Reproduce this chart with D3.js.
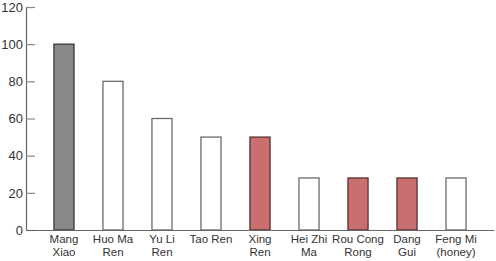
<!DOCTYPE html>
<html>
<head>
<meta charset="utf-8">
<script src="https://cdn.jsdelivr.net/npm/d3@7"></script>
<style>
  body { margin: 0; background: #fff; }
  text { font-family: "Liberation Sans", Arial, sans-serif; fill: #333; }
</style>
</head>
<body>
<div id="chart"></div>
<script>
const categories = [["Mang", "Xiao"], ["Huo Ma", "Ren"], ["Yu Li", "Ren"], ["Tao Ren"], ["Xing", "Ren"],
  ["Hei Zhi", "Ma"], ["Rou Cong", "Rong"], ["Dang", "Gui"], ["Feng Mi", "(honey)"]];
const values = [100, 80, 60, 50, 50, 28, 28, 28, 28];
const groups = ["gray", "white", "white", "white", "red", "white", "red", "red", "white"];
const yTicks = [0, 20, 40, 60, 80, 100, 120];

const width = 496, height = 261;
const margin = {top: 7, right: 2, bottom: 31, left: 26};
const w = width - margin.left - margin.right;
const h = height - margin.top - margin.bottom;

const fills = {gray: "#888888", white: "#ffffff", red: "#c96f6f"};
const strokes = {gray: "#3a3a3a", white: "#6a6a6a", red: "#5a3030"};

const svg = d3.select("#chart").append("svg")
    .attr("width", width)
    .attr("height", height)
    .append("g")
    .attr("transform", `translate(${margin.left},${margin.top})`);

const keys = categories.map(d => d.join(" "));

let x = d3.scaleBand()
    .range([0, w])
    .domain(keys)
    .paddingInner(0.59)
    .paddingOuter(0.57);

let y = d3.scaleLinear()
    .domain([0, 120])
    .range([h, 0]);

// Bars
svg.selectAll("rect.bar")
    .data(values)
    .enter()
    .append("rect")
      .attr("class", "bar")
      .attr("x", (d, i) => x(keys[i]))
      .attr("y", d => y(d))
      .attr("width", x.bandwidth())
      .attr("height", d => h - y(d))
      .style("fill", (d, i) => fills[groups[i]])
      .style("stroke", (d, i) => strokes[groups[i]])
      .style("stroke-width", 1.3);

// Y axis, ticks pointing inward
const yAxis = svg.append("g")
    .call(d3.axisRight(y).tickValues(yTicks).tickSize(9).tickSizeOuter(0));
yAxis.select(".domain").attr("stroke", "#666").attr("stroke-width", 1.2);
yAxis.selectAll(".tick line").attr("stroke", "#888").attr("stroke-width", 1.2);
yAxis.selectAll(".tick text")
    .attr("x", -3)
    .attr("text-anchor", "end")
    .style("font-size", "13px")
    .style("fill", "#333");

// X axis baseline
const xAxis = svg.append("g")
    .attr("transform", `translate(0,${h})`)
    .call(d3.axisBottom(x).tickSize(0).tickSizeOuter(0).tickFormat(""));
xAxis.select(".domain").attr("stroke", "#666").attr("stroke-width", 1.2);

// two-line category labels
xAxis.selectAll(".tick").each(function(d, i) {
  const t = d3.select(this).append("text")
      .attr("text-anchor", "middle")
      .style("font-size", "11.5px")
      .style("fill", "#333");
  categories[i].forEach((line, j) => {
    t.append("tspan").attr("x", 0).attr("y", 13 + j * 13).text(line);
  });
});
</script>
</body>
</html>
